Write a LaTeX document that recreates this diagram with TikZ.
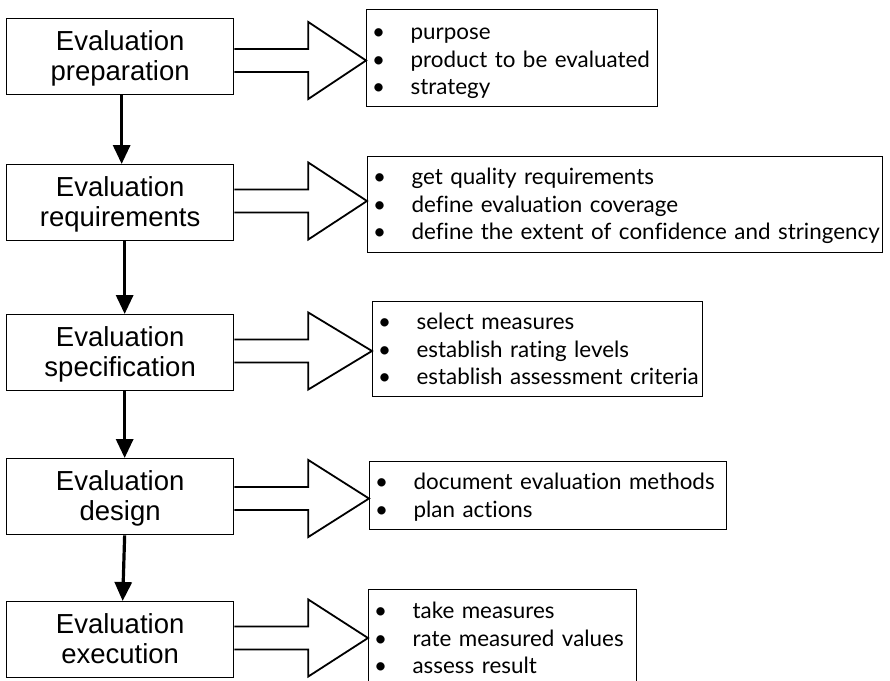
\documentclass[tikz,border=0pt]{standalone}
\usepackage{fontspec}
\setmainfont{Liberation Sans}
\newfontfamily\listfont[Ligatures=NoCommon]{Lato}
\usetikzlibrary{arrows.meta,calc}

% one bullet line of a result list: bullet centred 12pt in, text 32pt further
\newcommand\itm[1]{\hspace*{12pt}\makebox[32pt][l]{\makebox[0pt]{\textbullet}}\mbox{#1}}

% hollow block arrow from a stage box to its result list, tip at height #3
\newcommand\fatarrow[3]{%
  \coordinate (#1o) at (#1.east |- 0,#3);
  \coordinate (#1t) at (#2.west |- 0,#3);
  \draw[fat] ($(#1o)+(0,-11.5)$) -- ++(74,0) -- ++(0,-27) -- (#1t)
    -- ($(#1o)+(74,38.5)$) -- ++(0,-27) -- ($(#1o)+(0,11.5)$);
}

\begin{document}
\begin{tikzpicture}[x=1pt,y=-1pt,
  stage/.style={draw, line width=1.3pt, anchor=north west, inner sep=0pt,
    text width=227pt, align=center, text height=31.5pt, text depth=44.5pt,
    font=\fontsize{27.5}{30.5}\selectfont},
  list/.style={draw, line width=1.2pt, anchor=north west, inner sep=0pt,
    align=left, font=\listfont\fontsize{22.4}{27.5}\selectfont},
  fat/.style={draw, fill=white, line width=1.8pt, line join=miter},
  flow/.style={line width=3.2pt, -{Triangle[width=17pt,length=19pt]}}]

\useasboundingbox (0,0) rectangle (890,680);
\clip (0,0) rectangle (890,680);

% process stages
\node[stage] (s1) at (6,18)  {Evaluation\\preparation};
\node[stage] (s2) at (6,164) {Evaluation\\requirements};
\node[stage] (s3) at (6,314) {Evaluation\\specification};
\node[stage] (s4) at (6,458) {Evaluation\\design};
\node[stage] (s5) at (6,601) {Evaluation\\execution};

% results of each stage
\node[list, text width=291pt, text height=30pt, text depth=67pt] (r1) at (366,9)
  {\itm{purpose}\\\itm{product to be evaluated}\\\itm{strategy}};
\node[list, text width=515pt, text height=28pt, text depth=68pt] (r2) at (367,156)
  {\itm{get quality requirements}\\\itm{define evaluation coverage}\\\itm{define the extent of confidence and stringency}};
\node[list, text width=330pt, text height=28pt, text depth=67pt] (r3) at (372,301)
  {\itm{select measures}\\\itm{establish rating levels}\\\itm{establish assessment criteria}};
\node[list, text width=357pt, text height=28pt, text depth=40pt] (r4) at (369,461)
  {\itm{document evaluation methods}\\\itm{plan actions}};
\node[list, text width=268pt, text height=29pt, text depth=68pt] (r5) at (368,589)
  {\itm{take measures}\\\itm{rate measured values}\\\itm{assess result}};

% stage to result
\fatarrow{s1}{r1}{60.5}
\fatarrow{s2}{r2}{201}
\fatarrow{s3}{r3}{351}
\fatarrow{s4}{r4}{498.5}
\fatarrow{s5}{r5}{638}

% stage sequence
\draw[flow] ([xshift=1.5pt]s1.south) -- ([xshift=1.5pt]s2.north);
\draw[flow] ([xshift=4.5pt]s2.south) -- ([xshift=4.5pt]s3.north);
\draw[flow] ([xshift=4.5pt]s3.south) -- ([xshift=4.5pt]s4.north);
\draw[flow] ([xshift=4.5pt]s4.south) -- ([xshift=2.5pt]s5.north);
\end{tikzpicture}
\end{document}
